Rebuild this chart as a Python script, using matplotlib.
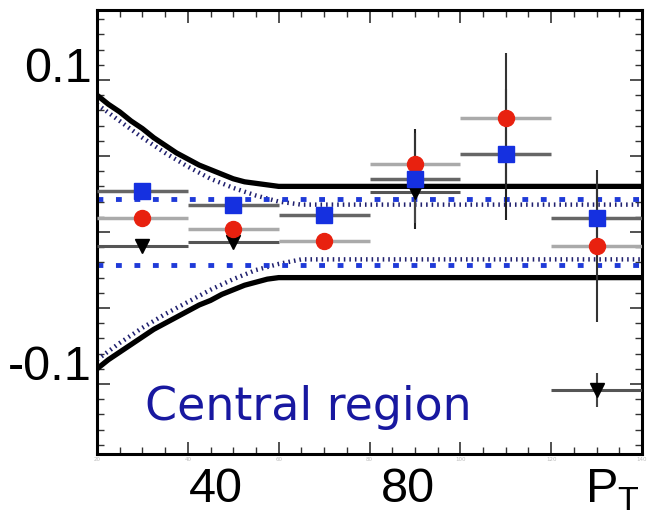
import matplotlib.pyplot as plt
import numpy as np
from matplotlib.ticker import MultipleLocator

# bins in pT
bin_centres = [30, 50, 70, 90, 110, 130]
bin_halfwidth = [10, 10, 10, 10, 10, 10]

blue_sq = [0.027, 0.018, 0.011, 0.035, 0.051, 0.009]
blue_sq_err = [0.003, 0.003, 0.003, 0.033, 0.043, 0.02]
red_circ = [0.0095, 0.0023, -0.0056, 0.045, 0.075, -0.0089]
red_circ_err = [0.003, 0.003, 0.003, 0.02, 0.043, 0.05]
black_tri = [-0.0089, -0.0069, np.nan, 0.026, np.nan, -0.104]
black_tri_err = [0.003, 0.003, 0.0, 0.02, 0.0, 0.011]

# uncertainty envelopes
env_x = [20, 22.5, 25, 27.5, 30, 32.5, 35, 37.5, 40, 42.5, 45, 47.5, 50, 52.5, 55, 57.5, 60, 140]
env_up = [0.090, 0.084, 0.079, 0.073, 0.068, 0.062, 0.057, 0.052, 0.048, 0.044, 0.041, 0.038,
          0.035, 0.033, 0.032, 0.031, 0.030, 0.030]
env_lo = [-0.090, -0.084, -0.079, -0.074, -0.069, -0.064, -0.060, -0.056, -0.052, -0.048, -0.045,
          -0.041, -0.038, -0.035, -0.033, -0.031, -0.030, -0.030]
inner_x = [20, 25, 30, 35, 40, 45, 50, 55, 60, 65, 140]
inner_up = [0.084, 0.073, 0.062, 0.052, 0.043, 0.035, 0.029, 0.024, 0.020, 0.018, 0.018]
inner_lo = [-0.084, -0.073, -0.063, -0.054, -0.046, -0.038, -0.031, -0.025, -0.021, -0.018, -0.018]
band_x = [20, 140]
band_up = [0.022, 0.022]
band_lo = [-0.022, -0.022]

fig = plt.figure(figsize=(6.56, 5.15), dpi=100)
ax = fig.add_axes([97/656, 1-454/515, 545/656, 444/515])

# envelopes
ax.plot(env_x, env_up, color='black', lw=3.8, zorder=2)
ax.plot(env_x, env_lo, color='black', lw=3.8, zorder=2)
ax.plot(inner_x, inner_up, color='#20206e', lw=3.2, ls=(0, (0.35, 0.9)), zorder=2)
ax.plot(inner_x, inner_lo, color='#20206e', lw=3.2, ls=(0, (0.35, 0.9)), zorder=2)
ax.plot(band_x, band_up, color='#1f3ad8', lw=3.5, ls=(0, (1.2, 2.6)), zorder=2)
ax.plot(band_x, band_lo, color='#1f3ad8', lw=3.5, ls=(0, (1.2, 2.6)), zorder=2)

# horizontal bin bars
ax.errorbar(bin_centres, black_tri, xerr=bin_halfwidth, fmt='none', ecolor='#555555', elinewidth=2.2, zorder=3)
ax.errorbar(bin_centres, red_circ, xerr=bin_halfwidth, fmt='none', ecolor='#aaaaaa', elinewidth=2.5, zorder=3)
ax.errorbar(bin_centres, blue_sq, xerr=bin_halfwidth, fmt='none', ecolor='#666666', elinewidth=2.5, zorder=3)

# vertical errors
ax.errorbar(bin_centres, blue_sq, yerr=blue_sq_err, fmt='none', ecolor='#222222', elinewidth=1.5, zorder=4)
ax.errorbar(bin_centres, red_circ, yerr=red_circ_err, fmt='none', ecolor='#333333', elinewidth=1.5, zorder=4)
ax.errorbar(bin_centres, black_tri, yerr=black_tri_err, fmt='none', ecolor='#444444', elinewidth=1.5, zorder=4)

# markers
ax.plot(bin_centres, black_tri, 'v', color='black', ms=10, zorder=5)
ax.plot(bin_centres, red_circ, 'o', color='#e8210f', ms=11.5, zorder=6)
ax.plot(bin_centres, blue_sq, 's', color='#1530e0', ms=11, zorder=7)

ax.set_xlim(20, 140)
ax.set_ylim(-0.146, 0.146)
ax.xaxis.set_major_locator(MultipleLocator(20))
ax.xaxis.set_minor_locator(MultipleLocator(5))
ax.yaxis.set_major_locator(MultipleLocator(0.05))
ax.yaxis.set_minor_locator(MultipleLocator(0.01))
ax.tick_params(which='both', direction='in', top=True, right=True, color='#333333')
ax.tick_params(which='major', length=9, width=1.2)
ax.tick_params(which='minor', length=5, width=1.0)
ax.tick_params(axis='x', labelsize=4, labelcolor='#bbbbbb', pad=2)
ax.tick_params(axis='y', labelleft=False)
for s in ax.spines.values():
    s.set_linewidth(2.2)

# overlaid labels
big = dict(family='Liberation Sans', fontsize=35, color='black', ha='right', va='center')
fig.text(92/656, 1-69/515, '0.1', **big)
fig.text(92/656, 1-368/515, '-0.1', **big)
big['ha'] = 'center'
fig.text(216/656, 1-490/515, '40', **big)
fig.text(408/656, 1-490/515, '80', **big)
fig.text(612/656, 1-490/515, r'P$_{\mathregular{T}}$', **big)

ax.text(0.088, 0.105, 'Central region', transform=ax.transAxes, fontsize=33,
        color='#1818a0', ha='left', va='center')

plt.savefig('out.png', dpi=100)
